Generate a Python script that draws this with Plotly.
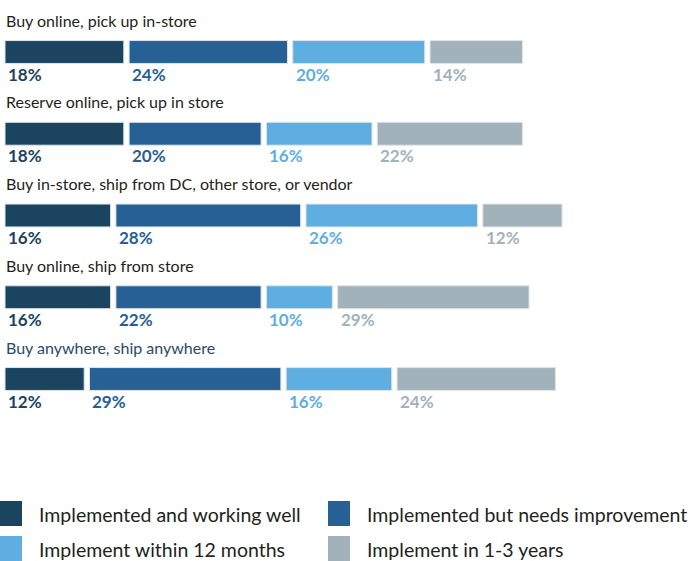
import plotly.graph_objects as go

# Fulfilment options and how far along retailers are with each
options = [
    "Buy online, pick up in-store",
    "Reserve online, pick up in store",
    "Buy in-store, ship from DC, other store, or vendor",
    "Buy online, ship from store",
    "Buy anywhere, ship anywhere",
]
statuses = [
    "Implemented and working well",
    "Implemented but needs improvement",
    "Implement within 12 months",
    "Implement in 1-3 years",
]
working_well = [18, 18, 16, 16, 12]
needs_improvement = [24, 20, 28, 22, 29]
within_12_months = [20, 16, 26, 10, 16]
in_1_3_years = [14, 22, 12, 29, 24]

series = [working_well, needs_improvement, within_12_months, in_1_3_years]
colors = ["#1b4461", "#266094", "#5eaee1", "#a2b2bb"]
title_colors = ["#231f20", "#231f20", "#231f20", "#231f20", "#2b4a66"]

GAP = 0.8          # white space between segments, in percentage units
BAR_H = 0.28
FONT = "Lato"

fig = go.Figure()
annotations = []

for i, opt in enumerate(options):
    annotations.append(dict(
        x=0, y=i, xref="x", yref="y", text=opt, showarrow=False,
        xanchor="left", yanchor="middle", yshift=32, xshift=-1,
        font=dict(family=FONT, size=16, color=title_colors[i]),
    ))

for s, (name, vals, col) in enumerate(zip(statuses, series, colors)):
    bases = []
    for i in range(len(options)):
        start = sum(series[k][i] for k in range(s)) + GAP * s
        bases.append(start)
    fig.add_trace(go.Bar(
        orientation="h", name=name,
        x=vals, y=list(range(len(options))), base=bases,
        width=BAR_H, marker=dict(color=col, line=dict(color="#dfe4e8", width=1)),
        showlegend=False, hoverinfo="skip",
    ))
    for i, v in enumerate(vals):
        annotations.append(dict(
            x=bases[i], y=i, xref="x", yref="y", text=f"{v}%", showarrow=False,
            xanchor="left", yanchor="middle", yshift=-22, xshift=1,
            font=dict(family=FONT, size=17, color=col, weight="bold"),
        ))

# Legend drawn as swatches with labels, two columns by two rows
H = 561.0
shapes = []
legend_pos = [(0, 501), (328, 501), (0, 536), (328, 536)]
for (px, py), name, col in zip(legend_pos, statuses, colors):
    shapes.append(dict(
        type="rect", xref="paper", yref="paper",
        x0=px / 694, x1=(px + 22) / 694,
        y0=1 - (py + 25) / H, y1=1 - py / H,
        fillcolor=col, line=dict(width=0),
    ))
    annotations.append(dict(
        x=(px + 37) / 694, y=1 - (py + 13) / H, xref="paper", yref="paper",
        text=name, showarrow=False, xanchor="left", yanchor="middle",
        font=dict(family=FONT, size=19.5, color="#231f20"),
    ))

px_per_unit = 6.6
fig.update_layout(
    width=694, height=561,
    margin=dict(l=0, r=0, t=0, b=0),
    paper_bgcolor="white", plot_bgcolor="white",
    barmode="overlay",
    xaxis=dict(range=[-5 / px_per_unit, (694 - 5) / px_per_unit],
               visible=False, fixedrange=True),
    yaxis=dict(range=[(561 - 52) / 81.75, -52 / 81.75],
               visible=False, fixedrange=True),
    annotations=annotations,
    shapes=shapes,
    showlegend=False,
)

fig.write_html("out.html")
